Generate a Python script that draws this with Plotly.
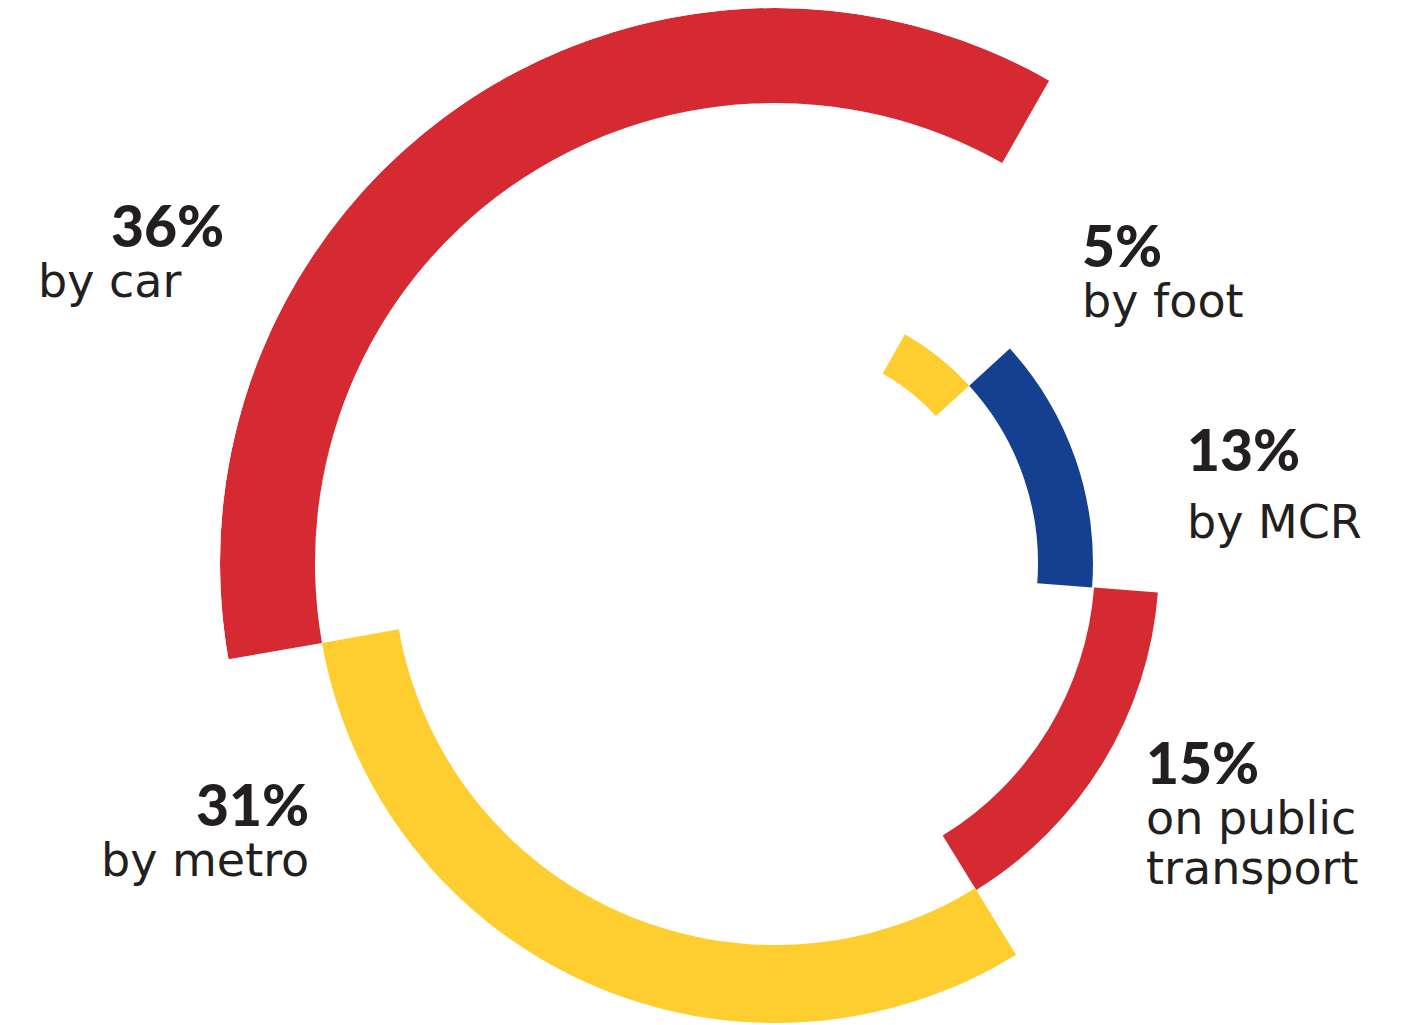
import plotly.graph_objects as go

# ---- data ---------------------------------------------------------------
modes = ["by car", "by foot", "by MCR", "on public transport", "by metro"]
shares = [36, 5, 13, 15, 31]            # percent of trips
label_lines = [["by car"], ["by foot"], ["by MCR"], ["on public", "transport"], ["by metro"]]

# ---- styling ------------------------------------------------------------
W, H_VIEW = 1402, 1025     # visible page area
RED, YELLOW, BLUE = "#D62A33", "#FECE30", "#14408F"
TEXT = "#231F20"
colors = [RED, YELLOW, BLUE, RED, YELLOW]

# each mode sits on its own ring (inner / outer radius, axis units = px)
ring_inner = [460, 218, 263, 320, 382]
ring_outer = [555, 263, 318, 384, 460]

start_angle = 260          # where the first arc begins, clockwise from 12 o'clock
cx, cy = 775, 563          # centre of the rings on the page
R_MAX = 555                # radius of the polar frame in px

# the full circle must fit inside the figure, so the figure runs a little
# below the visible page; the overflow is cropped in the page itself
H = cy + R_MAX

# arcs: span proportional to the share (100 % = full circle)
widths = [s * 3.6 for s in shares]
centers = []
acc = start_angle
for w in widths:
    centers.append(acc + w / 2)
    acc += w

fig = go.Figure()
fig.add_trace(go.Barpolar(
    r=[o - i for i, o in zip(ring_inner, ring_outer)],
    base=ring_inner,
    theta=centers,
    width=widths,
    marker=dict(color=colors, line=dict(width=0)),
    hoverinfo="skip",
    showlegend=False,
))

fig.update_layout(
    width=W, height=H,
    margin=dict(l=0, r=0, t=0, b=0),
    paper_bgcolor="white", plot_bgcolor="white",
    polar=dict(
        domain=dict(x=[(cx - R_MAX) / W, (cx + R_MAX) / W],
                    y=[(H - cy - R_MAX) / H, (H - cy + R_MAX) / H]),
        bgcolor="white",
        radialaxis=dict(range=[0, R_MAX], visible=False),
        angularaxis=dict(visible=False, direction="clockwise", rotation=90),
    ),
)

# ---- labels ---------------------------------------------------------------
NUM_SIZE, TXT_SIZE = 57, 46
NUM_ASCENT = 0.987 * NUM_SIZE     # Lato ascent, used to place the first baseline
NUM_STYLE = f"font-family:Lato;font-weight:900;font-size:{NUM_SIZE}px"
PAD_STYLE = f"font-family:Lato;font-size:{NUM_SIZE}px"
TXT_STYLE = f"font-size:{TXT_SIZE}px"

# (x of the block, baseline of the percentage, side, line pitch, spaces before the number)
label_pos = [
    (37, 246, "left", 50, 5),
    (1081, 266, "left", 50, 0),
    (1186, 470, "left", 67, 0),
    (1145, 783, "left", 50, 0),
    (310, 825, "right", 50, 0),
]

for share, lines, (bx, base, side, pitch, indent) in zip(shares, label_lines, label_pos):
    head = ""
    if indent:
        # non-breaking spaces push the percentage to the right of the text
        head = f'<span style="{PAD_STYLE}">' + "\u00a0" * indent + "</span>"
    parts = [head + f'<span style="{NUM_STYLE}">{share}%</span>']
    parts += [f'<span style="{TXT_STYLE}">{line}</span>' for line in lines]
    fig.add_annotation(
        x=bx / W, y=1 - (base - NUM_ASCENT) / H, xref="paper", yref="paper",
        xanchor=side, yanchor="top", align=side, showarrow=False, borderpad=0,
        text="<br>".join(parts),
        font=dict(family="DejaVu Sans, sans-serif", size=pitch / 1.3, color=TEXT),
    )

crop_js = """
var gd = document.getElementById('{plot_id}');
document.documentElement.style.overflow = 'hidden';
document.body.style.margin = '0';
document.body.style.overflow = 'hidden';
var wrap = gd.parentElement;
wrap.style.height = '%dpx';
wrap.style.overflow = 'hidden';
""" % H_VIEW

fig.write_html("out.html", post_script=crop_js)
